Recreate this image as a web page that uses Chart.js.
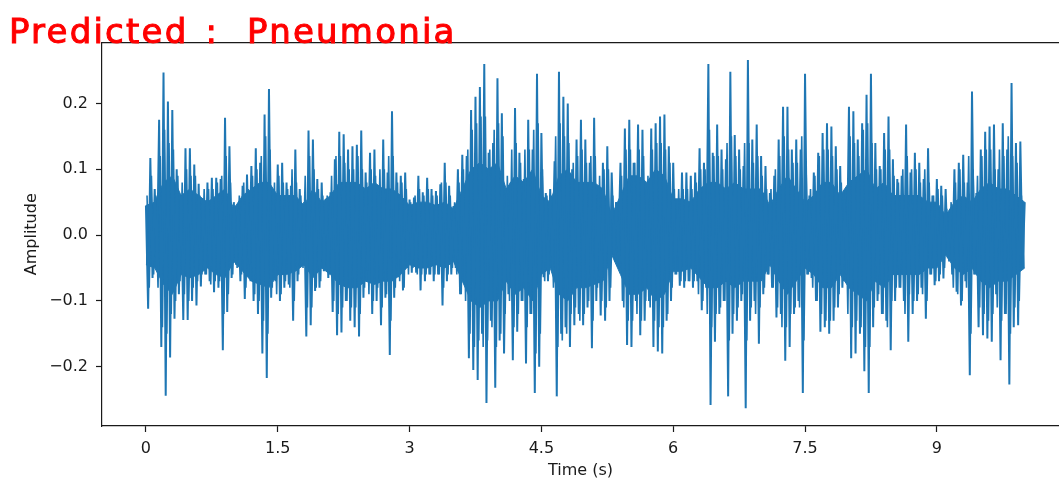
<!DOCTYPE html>
<html>
<head>
<meta charset="utf-8">
<script src="https://cdn.jsdelivr.net/npm/chart.js@4.4.1/dist/chart.umd.min.js"></script>
<style>
html,body{margin:0;padding:0;background:#fff;overflow:hidden;}
#wrap{position:relative;width:1059px;height:479px;}
#c{position:absolute;left:0;top:0;}
#verdict{position:absolute;left:9px;top:14px;font-family:'DejaVu Sans';font-size:34px;line-height:34px;color:#ff0000;letter-spacing:2.2px;white-space:pre;-webkit-text-stroke:1px #ff0000;z-index:2;}
#verdict .colon{margin-left:4px;margin-right:15px;}
</style>
</head>
<body>
<div id="wrap">
<canvas id="c" width="1059" height="479"></canvas>
<div id="verdict">Predicted <span class="colon">:</span> Pneumonia</div>
</div>
<script>
// seconds between consecutive peak samples
const sampleStep = 0.025;

// alternating main peak amplitudes, 20 per half second
const amplitude = [
  0.045,-0.112,0.117,-0.065,0.07,-0.05,0.175,-0.17,0.247,-0.244,0.203,-0.186,0.19,-0.127,0.1,-0.09,0.06,-0.129,0.132,-0.129,
  0.132,-0.1,0.107,-0.107,0.078,-0.078,0.055,-0.06,0.08,-0.07,0.087,-0.087,0.087,-0.08,0.085,-0.175,0.178,-0.117,0.135,-0.065,
  0.05,-0.045,0.04,-0.07,0.075,-0.097,0.092,-0.045,0.105,-0.1,0.132,-0.12,0.11,-0.18,0.183,-0.217,0.222,-0.095,0.07,-0.07,
  0.107,-0.1,0.11,-0.08,0.08,-0.075,0.075,-0.13,0.13,-0.07,0.07,-0.045,0.05,-0.154,0.159,-0.137,0.145,-0.085,0.085,-0.08,
  0.08,-0.055,0.055,-0.065,0.065,-0.117,0.115,-0.152,0.157,-0.148,0.153,-0.1,0.13,-0.13,0.135,-0.14,0.137,-0.154,0.159,-0.095,
  0.095,-0.054,0.125,-0.12,0.13,-0.1,0.07,-0.137,0.145,-0.095,0.095,-0.182,0.188,-0.095,0.095,-0.064,0.09,-0.084,0.095,-0.05,
  0.054,-0.057,0.057,-0.057,0.09,-0.084,0.065,-0.07,0.087,-0.06,0.07,-0.07,0.067,-0.06,0.077,-0.107,0.11,-0.07,0.075,-0.06,
  0.044,-0.05,0.1,-0.09,0.122,-0.07,0.12,-0.187,0.19,-0.205,0.21,-0.22,0.225,-0.15,0.26,-0.255,0.125,-0.13,0.14,-0.232,
  0.238,-0.16,0.185,-0.18,0.064,-0.09,0.08,-0.19,0.193,-0.147,0.125,-0.1,0.085,-0.195,0.175,-0.12,0.13,-0.24,0.245,-0.2,
  0.155,-0.064,0.064,-0.07,0.07,-0.05,0.112,-0.245,0.248,-0.15,0.21,-0.14,0.2,-0.17,0.1,-0.137,0.145,-0.12,0.175,-0.137,
  0.145,-0.11,0.11,-0.172,0.178,-0.1,0.075,-0.122,0.11,-0.13,0.135,-0.1,0.095,-0.03,0.05,-0.025,0.11,-0.1,0.162,-0.167,
  0.175,-0.17,0.11,-0.1,0.168,-0.152,0.16,-0.13,0.07,-0.1,0.162,-0.17,0.17,-0.177,0.18,-0.18,0.183,-0.13,0.135,-0.1,
  0.11,-0.06,0.054,-0.077,0.095,-0.08,0.095,-0.07,0.09,-0.08,0.095,-0.07,0.132,-0.114,0.11,-0.08,0.26,-0.258,0.125,-0.162,
  0.168,-0.12,0.13,-0.1,0.115,-0.245,0.248,-0.15,0.152,-0.13,0.13,-0.1,0.105,-0.263,0.266,-0.13,0.145,-0.1,0.168,-0.165,
  0.12,-0.09,0.105,-0.06,0.064,-0.08,0.09,-0.125,0.145,-0.12,0.195,-0.191,0.195,-0.17,0.13,-0.12,0.145,-0.1,0.13,-0.24,
  0.245,-0.06,0.06,-0.065,0.095,-0.1,0.125,-0.147,0.155,-0.14,0.17,-0.15,0.165,-0.13,0.135,-0.11,0.105,-0.08,0.054,-0.06,
  0.195,-0.187,0.188,-0.18,0.145,-0.15,0.17,-0.207,0.213,-0.24,0.245,-0.14,0.14,-0.1,0.105,-0.12,0.155,-0.13,0.18,-0.175,
  0.115,-0.1,0.085,-0.08,0.09,-0.1,0.168,-0.162,0.095,-0.12,0.125,-0.1,0.11,-0.08,0.085,-0.127,0.132,-0.06,0.06,-0.076,
  0.085,-0.07,0.075,-0.066,0.07,-0.035,0.034,-0.06,0.1,-0.086,0.11,-0.107,0.122,-0.07,0.08,-0.213,0.218,-0.06,0.064,-0.14,
  0.13,-0.152,0.157,-0.157,0.165,-0.162,0.168,-0.09,0.1,-0.19,0.17,-0.12,0.13,-0.227,0.231,-0.14,0.14,-0.137,0.142,-0.05,
  0.05
];

// secondary peaks lying between the main ones (offset by half a step), 20 per half second
const midOffset = 0.0125;
const midAmplitude = [
  0.06,-0.08,0.09,-0.06,0.06,-0.08,0.12,-0.14,0.16,-0.15,0.14,-0.12,0.13,-0.1,0.09,-0.07,0.08,-0.09,0.1,-0.1,
  0.09,-0.08,0.09,-0.07,0.06,-0.06,0.07,-0.06,0.07,-0.075,0.07,-0.07,0.08,-0.07,0.09,-0.12,0.12,-0.09,0.08,-0.06,
  0.045,-0.05,0.06,-0.06,0.08,-0.08,0.07,-0.07,0.09,-0.09,0.1,-0.1,0.12,-0.13,0.15,-0.15,0.13,-0.08,0.08,-0.09,
  0.09,-0.09,0.08,-0.07,0.07,-0.08,0.1,-0.1,0.08,-0.06,0.06,-0.05,0.09,-0.11,0.12,-0.11,0.1,-0.08,0.07,-0.07,
  0.06,-0.05,0.06,-0.06,0.09,-0.1,0.12,-0.12,0.12,-0.11,0.11,-0.1,0.1,-0.11,0.1,-0.11,0.12,-0.12,0.1,-0.08,
  0.08,-0.09,0.1,-0.1,0.09,-0.08,0.1,-0.11,0.1,-0.09,0.12,-0.13,0.12,-0.08,0.08,-0.07,0.08,-0.08,0.07,-0.06,
  0.05,-0.05,0.06,-0.06,0.07,-0.06,0.06,-0.06,0.07,-0.06,0.06,-0.06,0.06,-0.06,0.08,-0.08,0.08,-0.06,0.06,-0.05,
  0.05,-0.06,0.08,-0.09,0.1,-0.1,0.13,-0.15,0.16,-0.17,0.17,-0.16,0.18,-0.17,0.18,-0.16,0.13,-0.14,0.16,-0.17,
  0.17,-0.15,0.15,-0.12,0.09,-0.1,0.13,-0.14,0.14,-0.12,0.11,-0.1,0.13,-0.14,0.13,-0.12,0.16,-0.18,0.17,-0.15,
  0.1,-0.07,0.06,-0.06,0.06,-0.08,0.15,-0.17,0.17,-0.16,0.15,-0.15,0.14,-0.12,0.11,-0.11,0.12,-0.13,0.13,-0.12,
  0.11,-0.1,0.12,-0.13,0.12,-0.08,0.09,-0.1,0.1,-0.11,0.1,-0.08,0.06,-0.04,0.03,-0.05,0.09,-0.11,0.13,-0.13,
  0.13,-0.13,0.11,-0.12,0.13,-0.13,0.12,-0.1,0.09,-0.11,0.13,-0.13,0.14,-0.14,0.14,-0.14,0.13,-0.12,0.11,-0.08,
  0.07,-0.06,0.07,-0.07,0.07,-0.07,0.07,-0.07,0.07,-0.07,0.08,-0.09,0.1,-0.1,0.1,-0.12,0.16,-0.14,0.12,-0.12,
  0.12,-0.11,0.1,-0.1,0.14,-0.16,0.15,-0.12,0.12,-0.11,0.1,-0.09,0.14,-0.16,0.14,-0.11,0.11,-0.12,0.12,-0.11,
  0.09,-0.08,0.07,-0.06,0.07,-0.08,0.1,-0.11,0.12,-0.14,0.15,-0.14,0.13,-0.12,0.11,-0.11,0.11,-0.11,0.15,-0.16,
  0.1,-0.06,0.07,-0.08,0.09,-0.1,0.12,-0.12,0.13,-0.13,0.13,-0.13,0.12,-0.11,0.1,-0.09,0.08,-0.07,0.07,-0.12,
  0.15,-0.14,0.14,-0.13,0.12,-0.14,0.16,-0.17,0.17,-0.17,0.14,-0.11,0.1,-0.09,0.1,-0.12,0.13,-0.14,0.13,-0.1,
  0.09,-0.08,0.08,-0.08,0.1,-0.12,0.12,-0.09,0.1,-0.1,0.1,-0.09,0.08,-0.09,0.1,-0.1,0.08,-0.06,0.06,-0.07,
  0.07,-0.06,0.06,-0.05,0.04,-0.04,0.05,-0.08,0.08,-0.09,0.1,-0.1,0.08,-0.08,0.12,-0.15,0.1,-0.06,0.09,-0.11,
  0.12,-0.12,0.13,-0.13,0.13,-0.12,0.1,-0.11,0.13,-0.13,0.12,-0.12,0.15,-0.15,0.12,-0.11,0.11,-0.1,0.06,-0.05
];

// seconds between readings of the dense (solid) core of the waveform
const coreStep = 0.1;
// upper and lower edges of the solid core, one reading per 0.1 s
const coreTop = [
  0.045,0.05,0.08,0.09,0.06,0.07,0.06,0.05,0.06,0.07,
  0.04,0.06,0.07,0.08,0.08,0.06,0.06,0.06,0.045,0.07,
  0.05,0.06,0.08,0.08,0.08,0.07,0.08,0.07,0.07,0.06,
  0.045,0.05,0.05,0.045,0.05,0.04,0.07,0.1,0.11,0.1,
  0.11,0.07,0.09,0.08,0.1,0.06,0.05,0.09,0.1,0.08,
  0.08,0.08,0.07,0.03,0.06,0.09,0.09,0.08,0.1,0.09,
  0.055,0.055,0.05,0.07,0.08,0.08,0.07,0.08,0.07,0.07,
  0.07,0.045,0.07,0.09,0.07,0.05,0.06,0.08,0.08,0.06,
  0.08,0.09,0.1,0.07,0.08,0.06,0.06,0.06,0.06,0.05,
  0.05,0.03,0.05,0.06,0.05,0.07,0.08,0.07,0.07,0.06,
  0.05
];
const coreBottom = [
  -0.045,-0.05,-0.075,-0.09,-0.06,-0.065,-0.06,-0.05,-0.06,-0.065,
  -0.04,-0.055,-0.07,-0.075,-0.08,-0.06,-0.06,-0.055,-0.045,-0.065,
  -0.05,-0.06,-0.075,-0.08,-0.08,-0.07,-0.075,-0.07,-0.07,-0.06,
  -0.045,-0.05,-0.05,-0.045,-0.05,-0.04,-0.07,-0.1,-0.11,-0.1,
  -0.1,-0.07,-0.09,-0.08,-0.1,-0.06,-0.05,-0.09,-0.1,-0.08,
  -0.08,-0.075,-0.07,-0.03,-0.06,-0.09,-0.09,-0.08,-0.1,-0.09,
  -0.055,-0.055,-0.05,-0.065,-0.08,-0.08,-0.07,-0.08,-0.07,-0.07,
  -0.07,-0.045,-0.07,-0.09,-0.07,-0.05,-0.06,-0.08,-0.08,-0.06,
  -0.08,-0.09,-0.1,-0.07,-0.08,-0.06,-0.06,-0.06,-0.06,-0.05,
  -0.05,-0.03,-0.05,-0.06,-0.05,-0.07,-0.08,-0.07,-0.07,-0.06,
  -0.05
];

const xTicks = [0, 1.5, 3, 4.5, 6, 7.5, 9];
const xTickLabels = ['0', '1.5', '3', '4.5', '6', '7.5', '9'];
const yTicks = [-0.2, -0.1, 0, 0.1, 0.2];
const yTickLabels = ['\u22120.2', '\u22120.1', '0.0', '0.1', '0.2'];
const xAxisTitle = 'Time (s)';
const yAxisTitle = 'Amplitude';

const points = amplitude.map((v, i) => ({ x: i * sampleStep, y: v }));
const midPoints = midAmplitude.map((v, i) => ({ x: midOffset + i * sampleStep, y: v }));
const corePtsTop = coreTop.map((v, i) => ({ x: i * coreStep, y: v }));
const corePtsBottom = coreBottom.map((v, i) => ({ x: i * coreStep, y: v }));

const waveColor = '#1f77b4';
const ink = '#1a1a1a';
const tickFont = { family: "'DejaVu Sans'", size: 16, lineHeight: 1.2 };
const titleFont = { family: "'DejaVu Sans'", size: 16, lineHeight: 1 };
const X_MIN = -0.5, X_MAX = 10.39;

new Chart(document.getElementById('c'), {
  type: 'line',
  data: {
    datasets: [
      { data: points, borderColor: waveColor, borderWidth: 2, pointRadius: 0, tension: 0, fill: false, order: 0 },
      { data: midPoints, borderColor: waveColor, borderWidth: 1.6, pointRadius: 0, tension: 0, fill: false, order: 1 },
      { data: corePtsTop, borderColor: waveColor, borderWidth: 1, pointRadius: 0, tension: 0, fill: '+1', backgroundColor: waveColor, order: 2 },
      { data: corePtsBottom, borderColor: waveColor, borderWidth: 1, pointRadius: 0, tension: 0, fill: false, order: 3 }
    ]
  },
  options: {
    responsive: false,
    animation: false,
    devicePixelRatio: 1,
    parsing: false,
    layout: { padding: { top: 42.5, left: 0, right: 0, bottom: 0 } },
    plugins: { legend: { display: false }, tooltip: { enabled: false } },
    scales: {
      x: {
        type: 'linear', position: 'bottom', min: X_MIN, max: X_MAX,
        afterBuildTicks: s => { s.ticks = xTicks.map(v => ({ value: v })); },
        afterFit: s => { s.height = 53; },
        ticks: {
          callback: v => { const k = xTicks.indexOf(v); return k >= 0 ? xTickLabels[k] : ''; },
          font: tickFont, color: ink, padding: 7, maxRotation: 0, autoSkip: false
        },
        grid: { drawOnChartArea: false, drawTicks: true, tickLength: 6, tickColor: ink, tickWidth: 1.2 },
        border: { display: true, color: ink, width: 1.2 },
        title: { display: true, text: xAxisTitle, font: titleFont, color: ink, padding: { top: 0, bottom: 0 } }
      },
      xTop: {
        type: 'linear', position: 'top', min: X_MIN, max: X_MAX,
        afterFit: s => { s.height = 0; },
        ticks: { display: false },
        grid: { display: false, drawTicks: false },
        border: { display: true, color: ink, width: 1.2 }
      },
      y: {
        type: 'linear', position: 'left', min: -0.290, max: 0.2925,
        afterBuildTicks: s => { s.ticks = yTicks.map(v => ({ value: v })); },
        afterFit: s => { s.width = 102; },
        ticks: {
          callback: v => { const k = yTicks.indexOf(v); return k >= 0 ? yTickLabels[k] : ''; },
          font: tickFont, color: ink, padding: 8, autoSkip: false
        },
        grid: { drawOnChartArea: false, drawTicks: true, tickLength: 6, tickColor: ink, tickWidth: 1.2 },
        border: { display: true, color: ink, width: 1.2 },
        title: { display: true, text: yAxisTitle, font: titleFont, color: ink, padding: { top: 24, bottom: 0 } }
      }
    }
  }
});
</script>
</body>
</html>
